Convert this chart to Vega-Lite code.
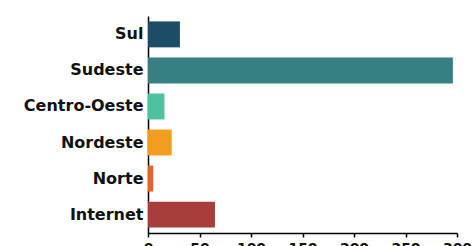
{
  "$schema": "https://vega.github.io/schema/vega-lite/v6.json",
  "autosize": "none",
  "width": 309,
  "height": 217,
  "padding": {"left": 148, "top": 16, "right": 15, "bottom": 13},
  "background": "white",
  "config": {"view": {"stroke": null}},
  "data": {
    "values": [
      {"regiao": "Sul", "valor": 31},
      {"regiao": "Sudeste", "valor": 296},
      {"regiao": "Centro-Oeste", "valor": 16},
      {"regiao": "Nordeste", "valor": 23},
      {"regiao": "Norte", "valor": 5},
      {"regiao": "Internet", "valor": 65}
    ]
  },
  "mark": {"type": "bar"},
  "encoding": {
    "y": {
      "field": "regiao",
      "type": "nominal",
      "sort": null,
      "scale": {"paddingInner": 0.28, "paddingOuter": 0.15},
      "axis": {
        "title": null,
        "ticks": false,
        "tickSize": 0,
        "labelPadding": 5,
        "domainColor": "#000000",
        "domainWidth": 1.5,
        "labelFont": "DejaVu Sans",
        "labelFontWeight": "bold",
        "labelFontSize": 16,
        "labelColor": "#111111"
      }
    },
    "x": {
      "field": "valor",
      "type": "quantitative",
      "scale": {"domain": [0, 300], "nice": false},
      "axis": {
        "title": null,
        "grid": false,
        "values": [0, 50, 100, 150, 200, 250, 300],
        "tickSize": 4,
        "tickColor": "#000000",
        "tickWidth": 1.5,
        "domainColor": "#000000",
        "domainWidth": 1.5,
        "labelPadding": 4,
        "labelFont": "DejaVu Sans",
        "labelFontWeight": "bold",
        "labelFontSize": 14,
        "labelColor": "#111111",
        "labelBaseline": "top",
        "labelFlush": false
      }
    },
    "color": {
      "field": "regiao",
      "type": "nominal",
      "legend": null,
      "scale": {
        "domain": ["Sul", "Sudeste", "Centro-Oeste", "Nordeste", "Norte", "Internet"],
        "range": ["#1c4d66", "#367f83", "#4fc0a0", "#f39c22", "#e8612c", "#a63f3c"]
      }
    }
  }
}
